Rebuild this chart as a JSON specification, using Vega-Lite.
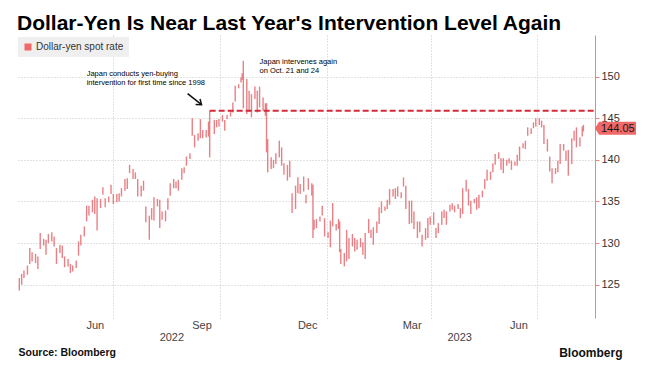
{
  "$schema": "https://vega.github.io/schema/vega-lite/v6.json",
  "width": 578,
  "height": 283,
  "autosize": "none",
  "padding": {"left": 17, "top": 35, "right": 72, "bottom": 55},
  "background": "#ffffff",
  "config": {"view": {"stroke": null}, "font": "Liberation Sans"},
  "title": {
    "text": "Dollar-Yen Is Near Last Year's Intervention Level Again",
    "anchor": "start", "frame": "group", "font": "Liberation Sans", "fontSize": 21,
    "fontWeight": "bold", "color": "#000000", "baseline": "alphabetic", "offset": 8, "dy": 24
  },
  "datasets": {
    "fx": [
      {"d":"2022-04-11","l":124.3,"h":125.8},{"d":"2022-04-13","l":125.0,"h":126.3},{"d":"2022-04-15","l":125.8,"h":126.7},
      {"d":"2022-04-18","l":126.2,"h":127.3},{"d":"2022-04-20","l":127.5,"h":129.4},{"d":"2022-04-22","l":127.8,"h":128.9},
      {"d":"2022-04-25","l":127.6,"h":128.7},{"d":"2022-04-27","l":126.9,"h":128.4},{"d":"2022-04-29","l":129.3,"h":131.2},
      {"d":"2022-05-02","l":129.7,"h":130.5},{"d":"2022-05-04","l":128.6,"h":130.4},{"d":"2022-05-06","l":130.0,"h":131.1},
      {"d":"2022-05-09","l":130.2,"h":131.3},{"d":"2022-05-11","l":129.6,"h":130.8},{"d":"2022-05-13","l":127.5,"h":129.4},
      {"d":"2022-05-16","l":128.8,"h":129.8},{"d":"2022-05-18","l":128.2,"h":129.7},{"d":"2022-05-20","l":127.1,"h":128.4},
      {"d":"2022-05-23","l":127.2,"h":128.1},{"d":"2022-05-25","l":126.4,"h":127.5},{"d":"2022-05-27","l":126.6,"h":127.3},
      {"d":"2022-05-30","l":127.0,"h":127.9},{"d":"2022-06-01","l":128.5,"h":130.2},{"d":"2022-06-03","l":129.7,"h":131.0},
      {"d":"2022-06-06","l":130.8,"h":132.0},{"d":"2022-06-08","l":132.6,"h":134.5},{"d":"2022-06-10","l":133.3,"h":134.5},
      {"d":"2022-06-13","l":133.7,"h":135.2},{"d":"2022-06-15","l":133.5,"h":135.6},{"d":"2022-06-17","l":131.5,"h":135.4},
      {"d":"2022-06-20","l":134.2,"h":135.3},{"d":"2022-06-22","l":135.8,"h":136.7},{"d":"2022-06-24","l":134.3,"h":135.4},
      {"d":"2022-06-27","l":134.9,"h":135.6},{"d":"2022-06-29","l":135.9,"h":137.0},{"d":"2022-07-01","l":134.7,"h":135.9},
      {"d":"2022-07-04","l":134.9,"h":135.9},{"d":"2022-07-06","l":135.0,"h":136.0},{"d":"2022-07-08","l":135.6,"h":136.6},
      {"d":"2022-07-11","l":136.3,"h":137.7},{"d":"2022-07-13","l":136.5,"h":137.8},{"d":"2022-07-15","l":138.4,"h":139.4},
      {"d":"2022-07-18","l":137.7,"h":138.9},{"d":"2022-07-20","l":137.7,"h":138.5},{"d":"2022-07-22","l":135.6,"h":137.7},
      {"d":"2022-07-25","l":135.6,"h":136.9},{"d":"2022-07-27","l":136.3,"h":137.5},{"d":"2022-07-29","l":132.5,"h":134.4},
      {"d":"2022-08-01","l":130.4,"h":133.3},{"d":"2022-08-03","l":132.8,"h":134.2},{"d":"2022-08-05","l":132.7,"h":135.5},
      {"d":"2022-08-08","l":134.4,"h":135.3},{"d":"2022-08-10","l":131.8,"h":135.2},{"d":"2022-08-12","l":132.8,"h":133.8},
      {"d":"2022-08-15","l":132.6,"h":133.9},{"d":"2022-08-17","l":134.0,"h":135.4},{"d":"2022-08-19","l":135.7,"h":137.2},
      {"d":"2022-08-22","l":136.6,"h":137.7},{"d":"2022-08-24","l":136.6,"h":137.4},{"d":"2022-08-26","l":136.3,"h":137.6},
      {"d":"2022-08-29","l":137.6,"h":139.0},{"d":"2022-08-31","l":138.4,"h":139.1},{"d":"2022-09-02","l":139.3,"h":140.4},
      {"d":"2022-09-05","l":140.1,"h":140.8},{"d":"2022-09-07","l":142.9,"h":145.0},{"d":"2022-09-09","l":141.5,"h":143.0},
      {"d":"2022-09-12","l":142.3,"h":143.2},{"d":"2022-09-14","l":142.6,"h":144.9},{"d":"2022-09-16","l":142.6,"h":143.6},
      {"d":"2022-09-19","l":142.7,"h":143.6},{"d":"2022-09-21","l":142.8,"h":144.6},{"d":"2022-09-22","l":140.3,"h":145.9},
      {"d":"2022-09-26","l":143.1,"h":144.8},{"d":"2022-09-28","l":143.9,"h":144.8},{"d":"2022-09-30","l":144.0,"h":144.9},
      {"d":"2022-10-03","l":144.6,"h":145.4},{"d":"2022-10-05","l":143.5,"h":144.8},{"d":"2022-10-07","l":144.9,"h":145.4},
      {"d":"2022-10-10","l":145.2,"h":145.9},{"d":"2022-10-12","l":145.7,"h":146.9},{"d":"2022-10-14","l":147.0,"h":148.9},
      {"d":"2022-10-17","l":148.6,"h":149.1},{"d":"2022-10-19","l":149.3,"h":149.9},{"d":"2022-10-20","l":149.6,"h":150.4},
      {"d":"2022-10-21","l":146.2,"h":151.9},{"d":"2022-10-24","l":145.5,"h":149.7},{"d":"2022-10-26","l":145.8,"h":148.3},
      {"d":"2022-10-28","l":145.1,"h":147.9},{"d":"2022-10-31","l":147.3,"h":148.8},{"d":"2022-11-02","l":145.7,"h":148.3},
      {"d":"2022-11-04","l":146.3,"h":148.8},{"d":"2022-11-07","l":145.9,"h":147.5},{"d":"2022-11-09","l":145.3,"h":146.8},
      {"d":"2022-11-10","l":140.9,"h":146.8},{"d":"2022-11-11","l":138.5,"h":142.5},{"d":"2022-11-14","l":138.9,"h":140.3},
      {"d":"2022-11-16","l":139.0,"h":140.0},{"d":"2022-11-18","l":139.5,"h":140.8},{"d":"2022-11-21","l":140.3,"h":142.3},
      {"d":"2022-11-23","l":139.3,"h":141.5},{"d":"2022-11-25","l":138.2,"h":139.6},{"d":"2022-11-28","l":137.5,"h":139.4},
      {"d":"2022-11-30","l":137.9,"h":139.9},{"d":"2022-12-02","l":133.6,"h":136.0},{"d":"2022-12-05","l":134.1,"h":136.9},
      {"d":"2022-12-07","l":136.0,"h":137.9},{"d":"2022-12-09","l":135.9,"h":137.1},{"d":"2022-12-12","l":136.2,"h":138.0},
      {"d":"2022-12-14","l":134.8,"h":135.8},{"d":"2022-12-16","l":136.4,"h":137.8},{"d":"2022-12-19","l":135.7,"h":137.2},
      {"d":"2022-12-20","l":130.6,"h":137.0},{"d":"2022-12-21","l":131.6,"h":132.8},{"d":"2022-12-23","l":131.8,"h":132.9},
      {"d":"2022-12-26","l":132.6,"h":133.2},{"d":"2022-12-28","l":133.3,"h":134.5},{"d":"2022-12-30","l":130.8,"h":133.0},
      {"d":"2023-01-02","l":130.6,"h":131.3},{"d":"2023-01-04","l":129.5,"h":132.7},{"d":"2023-01-06","l":132.0,"h":134.8},
      {"d":"2023-01-09","l":131.5,"h":132.3},{"d":"2023-01-11","l":131.7,"h":132.9},{"d":"2023-01-12","l":128.9,"h":132.6},
      {"d":"2023-01-13","l":127.5,"h":129.3},{"d":"2023-01-16","l":127.2,"h":128.8},{"d":"2023-01-18","l":127.8,"h":131.6},
      {"d":"2023-01-20","l":128.1,"h":130.6},{"d":"2023-01-23","l":129.6,"h":131.1},{"d":"2023-01-25","l":129.0,"h":130.6},
      {"d":"2023-01-27","l":129.2,"h":130.4},{"d":"2023-01-30","l":129.5,"h":130.6},{"d":"2023-02-01","l":128.6,"h":130.1},
      {"d":"2023-02-03","l":128.1,"h":131.2},{"d":"2023-02-06","l":131.2,"h":132.9},{"d":"2023-02-08","l":130.6,"h":131.6},
      {"d":"2023-02-10","l":129.8,"h":131.9},{"d":"2023-02-13","l":131.2,"h":132.6},{"d":"2023-02-15","l":132.3,"h":134.3},
      {"d":"2023-02-17","l":133.6,"h":135.0},{"d":"2023-02-20","l":133.9,"h":134.4},{"d":"2023-02-22","l":134.1,"h":135.2},
      {"d":"2023-02-24","l":134.6,"h":136.5},{"d":"2023-02-27","l":135.6,"h":136.5},{"d":"2023-03-01","l":135.3,"h":136.6},
      {"d":"2023-03-03","l":135.6,"h":136.8},{"d":"2023-03-06","l":135.4,"h":136.1},{"d":"2023-03-08","l":136.8,"h":137.9},
      {"d":"2023-03-10","l":134.1,"h":136.9},{"d":"2023-03-13","l":132.3,"h":135.1},{"d":"2023-03-15","l":132.4,"h":135.1},
      {"d":"2023-03-17","l":131.7,"h":133.8},{"d":"2023-03-20","l":130.6,"h":132.6},{"d":"2023-03-22","l":131.3,"h":132.6},
      {"d":"2023-03-24","l":129.6,"h":131.0},{"d":"2023-03-27","l":130.4,"h":131.8},{"d":"2023-03-29","l":130.6,"h":133.0},
      {"d":"2023-03-31","l":132.2,"h":133.2},{"d":"2023-04-03","l":132.2,"h":133.7},{"d":"2023-04-05","l":130.6,"h":131.8},
      {"d":"2023-04-07","l":131.2,"h":132.4},{"d":"2023-04-10","l":132.2,"h":133.8},{"d":"2023-04-12","l":133.0,"h":134.0},
      {"d":"2023-04-14","l":132.2,"h":133.8},{"d":"2023-04-17","l":133.8,"h":134.6},{"d":"2023-04-19","l":134.0,"h":134.8},
      {"d":"2023-04-21","l":133.7,"h":134.5},{"d":"2023-04-24","l":134.1,"h":134.7},{"d":"2023-04-26","l":133.0,"h":134.2},
      {"d":"2023-04-28","l":133.5,"h":136.6},{"d":"2023-05-01","l":136.2,"h":137.6},{"d":"2023-05-03","l":134.5,"h":136.5},
      {"d":"2023-05-05","l":133.5,"h":135.1},{"d":"2023-05-08","l":134.8,"h":135.3},{"d":"2023-05-10","l":134.0,"h":135.5},
      {"d":"2023-05-12","l":134.2,"h":135.8},{"d":"2023-05-15","l":135.5,"h":136.3},{"d":"2023-05-17","l":136.5,"h":137.7},
      {"d":"2023-05-19","l":137.5,"h":138.8},{"d":"2023-05-22","l":137.6,"h":138.6},{"d":"2023-05-24","l":138.5,"h":139.6},
      {"d":"2023-05-26","l":139.4,"h":140.7},{"d":"2023-05-29","l":140.1,"h":140.9},{"d":"2023-05-31","l":138.8,"h":140.2},
      {"d":"2023-06-02","l":138.4,"h":140.2},{"d":"2023-06-05","l":139.3,"h":140.0},{"d":"2023-06-07","l":139.6,"h":140.2},
      {"d":"2023-06-09","l":138.8,"h":139.9},{"d":"2023-06-12","l":139.3,"h":139.8},{"d":"2023-06-14","l":139.3,"h":140.6},
      {"d":"2023-06-16","l":139.9,"h":141.6},{"d":"2023-06-19","l":141.4,"h":142.0},{"d":"2023-06-21","l":141.3,"h":142.3},
      {"d":"2023-06-23","l":142.9,"h":143.9},{"d":"2023-06-26","l":143.1,"h":143.8},{"d":"2023-06-28","l":143.8,"h":144.5},
      {"d":"2023-06-30","l":144.0,"h":145.0},{"d":"2023-07-03","l":144.2,"h":145.0},{"d":"2023-07-05","l":143.9,"h":144.7},
      {"d":"2023-07-07","l":141.9,"h":144.2},{"d":"2023-07-10","l":141.0,"h":142.5},{"d":"2023-07-12","l":138.6,"h":140.4},
      {"d":"2023-07-14","l":137.2,"h":139.0},{"d":"2023-07-17","l":138.3,"h":139.0},{"d":"2023-07-19","l":138.5,"h":139.9},
      {"d":"2023-07-21","l":139.5,"h":141.9},{"d":"2023-07-24","l":141.1,"h":141.9},{"d":"2023-07-26","l":139.9,"h":141.1},
      {"d":"2023-07-28","l":138.1,"h":141.2},{"d":"2023-07-31","l":139.5,"h":142.6},{"d":"2023-08-02","l":142.3,"h":143.5},
      {"d":"2023-08-04","l":141.5,"h":143.9},{"d":"2023-08-07","l":141.6,"h":142.7},{"d":"2023-08-09","l":142.8,"h":144.0},
      {"d":"2023-08-10","l":143.4,"h":144.2}
    ],
    "level": [{"d1": "2022-09-22", "d2": "2023-08-20", "v": 145.9}],
    "notes": [
      {"d": "2022-06-08", "v": 150.84, "t": "Japan conducts yen-buying\nintervention for first time since 1998"},
      {"d": "2022-11-04", "v": 152.28, "t": "Japan intervenes again\non Oct. 21 and 24"}
    ],
    "arrow": [{"d1": "2022-09-03", "v1": 147.96, "d2": "2022-09-15", "v2": 146.63}],
    "last": [{"d": "2023-08-20", "v": 144.05, "t": "144.05", "s": "Dollar-yen spot rate"}]
  },
  "layer": [
    {
      "data": {"name": "fx"},
      "mark": {"type": "rule", "strokeWidth": 1.4, "opacity": 0.85, "color": "#e46a70"},
      "encoding": {
        "x": {"field": "d", "type": "temporal",
          "scale": {"type": "utc", "domain": [{"year": 2022, "month": 4, "date": 9, "utc": true}, {"year": 2023, "month": 8, "date": 20, "utc": true}]},
          "axis": {"values": [{"year": 2022, "month": 6, "date": 15, "utc": true}, {"year": 2022, "month": 9, "date": 15, "utc": true}, {"year": 2022, "month": 12, "date": 15, "utc": true}, {"year": 2023, "month": 3, "date": 15, "utc": true}, {"year": 2023, "month": 6, "date": 15, "utc": true}],
            "orient": "bottom", "format": "%b", "grid": false, "ticks": false, "tickSize": 0, "domain": false, "labelPadding": 1, "labelFontSize": 11, "labelColor": "#444444", "labelFont": "Liberation Sans",
            "title": "Bloomberg", "titleX": 605, "titleY": 38, "titleAlign": "right", "titleAnchor": "end", "titleBaseline": "alphabetic", "titleFontSize": 12, "titleFontWeight": "bold", "titleColor": "#111111", "titleFont": "Liberation Sans"}},
        "y": {"field": "l", "type": "quantitative",
          "scale": {"domain": [121, 155], "nice": false, "zero": false},
          "axis": {"orient": "right", "values": [125, 130, 135, 140, 145, 150], "title": null, "grid": true, "gridColor": "#c4c4c4", "gridDash": [1, 2],
            "domain": true, "domainColor": "#f08484", "domainWidth": 1, "ticks": true, "tickColor": "#f08484", "tickSize": 4,
            "labelPadding": 2, "labelFontSize": 11, "labelColor": "#333333", "labelFont": "Liberation Sans"}},
        "y2": {"field": "h"}
      }
    },
    {
      "data": {"name": "level"},
      "mark": {"type": "rule", "color": "#d42a3a", "strokeWidth": 2, "strokeDash": [6, 3]},
      "encoding": {
        "x": {"field": "d1", "type": "temporal", "scale": {"type": "utc"},
          "axis": {"values": [{"year": 2022, "month": 7, "date": 1, "utc": true}, {"year": 2022, "month": 10, "date": 1, "utc": true}, {"year": 2023, "month": 1, "date": 1, "utc": true}, {"year": 2023, "month": 4, "date": 1, "utc": true}, {"year": 2023, "month": 7, "date": 1, "utc": true}],
            "orient": "bottom", "grid": true, "gridColor": "#c4c4c4", "gridDash": [1, 2], "labels": false, "ticks": false, "tickSize": 0, "domain": false, "title": null}},
        "x2": {"field": "d2"},
        "y": {"field": "v", "type": "quantitative", "axis": {"title": null}}
      }
    },
    {
      "data": {"name": "notes"},
      "mark": {"type": "text", "align": "left", "baseline": "top", "lineBreak": "\n", "lineHeight": 9.6, "fontSize": 7.5, "font": "Liberation Sans Narrow, Arial Narrow, Liberation Sans", "color": "#000000"},
      "encoding": {
        "x": {"field": "d", "type": "temporal", "scale": {"type": "utc"},
          "axis": {"values": [{"year": 2022, "month": 8, "date": 20, "utc": true}, {"year": 2023, "month": 4, "date": 25, "utc": true}],
            "orient": "bottom", "format": "%Y", "grid": false, "ticks": false, "tickSize": 0, "domain": false, "labelPadding": 13, "labelFontSize": 11, "labelColor": "#444444", "labelFont": "Liberation Sans",
            "title": "Source: Bloomberg", "titleX": 1, "titleY": 37, "titleAlign": "left", "titleAnchor": "start", "titleBaseline": "alphabetic", "titleFontSize": 10.5, "titleFontWeight": "bold", "titleColor": "#111111", "titleFont": "Liberation Sans"}},
        "y": {"field": "v", "type": "quantitative", "axis": {"title": null}},
        "text": {"field": "t"}
      }
    },
    {
      "data": {"name": "arrow"},
      "mark": {"type": "rule", "color": "#111111", "strokeWidth": 1.5},
      "encoding": {
        "x": {"field": "d1", "type": "temporal", "scale": {"type": "utc"}, "axis": null},
        "x2": {"field": "d2"},
        "y": {"field": "v1", "type": "quantitative", "axis": {"title": null}},
        "y2": {"field": "v2"}
      }
    },
    {
      "data": {"name": "arrow"},
      "mark": {"type": "point", "shape": "M-1,-0.75L0,0L-1,0.75", "size": 90, "filled": false, "stroke": "#111111", "strokeWidth": 1.5, "angle": 38, "opacity": 1},
      "encoding": {
        "x": {"field": "d2", "type": "temporal", "scale": {"type": "utc"}, "axis": null},
        "y": {"field": "v2", "type": "quantitative", "axis": {"title": null}}
      }
    },
    {
      "data": {"name": "last"},
      "mark": {"type": "point", "shape": "M0,2L4,-4.5L41,-4.5L41,8.5L4,8.5Z", "size": 4, "filled": true, "strokeWidth": 0, "opacity": 1},
      "encoding": {
        "x": {"field": "d", "type": "temporal", "scale": {"type": "utc"}, "axis": null},
        "y": {"field": "v", "type": "quantitative", "axis": {"title": null}},
        "color": {"field": "s", "type": "nominal", "scale": {"range": ["#f06868"]},
          "legend": {"orient": "none", "legendX": 1, "legendY": 2, "title": null, "symbolType": "square", "symbolSize": 49,
            "fillColor": "#efefef", "padding": 5, "labelFontSize": 10, "labelColor": "#333333", "labelFont": "Liberation Sans", "labelOffset": 3, "symbolStrokeWidth": 0, "symbolOpacity": 1}}
      }
    },
    {
      "data": {"name": "last"},
      "mark": {"type": "text", "align": "left", "baseline": "middle", "dx": 6, "dy": 2.5, "fontSize": 11, "font": "Liberation Sans", "color": "#1a1a1a"},
      "encoding": {
        "x": {"field": "d", "type": "temporal", "scale": {"type": "utc"}, "axis": null},
        "y": {"field": "v", "type": "quantitative", "axis": {"title": null}},
        "text": {"field": "t"}
      }
    }
  ],
  "resolve": {"axis": {"x": "independent"}}
}
